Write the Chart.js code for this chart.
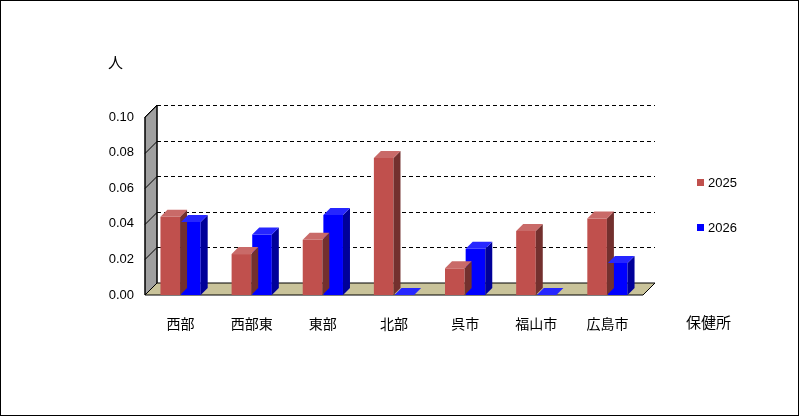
<!DOCTYPE html>
<html><head><meta charset="utf-8">
<script src="https://cdn.jsdelivr.net/npm/chart.js@4"></script>
<style>body{margin:0;background:#fff}canvas{display:block}</style>
</head><body><canvas id="c" width="799" height="416"></canvas>
<script>
const categories=['西部','西部東','東部','北部','呉市','福山市','広島市'];
const series2025=[0.044,0.023,0.031,0.077,0.015,0.036,0.043];
const series2026=[0.041,0.034,0.045,0.0,0.026,0.0,0.018];
const yTicks=[0,0.02,0.04,0.06,0.08,0.10];
const D=12, BD=7;
function shade(c,f){const n=parseInt(c.slice(1),16);let r=n>>16,g=(n>>8)&255,b=n&255;
 const m=v=>Math.max(0,Math.min(255,Math.round(f<1?v*f:v+(255-v)*(f-1))));return `rgb(${m(r)},${m(g)},${m(b)})`;}
const deco={id:'deco',
 beforeDatasetsDraw(ch){const c=ch.ctx,a=ch.chartArea,y=ch.scales.y;
  c.save();
  c.fillStyle='#a0a0a0';c.beginPath();c.moveTo(a.left,a.top);c.lineTo(a.left+D,a.top-D);c.lineTo(a.left+D,a.bottom-D);c.lineTo(a.left,a.bottom);c.closePath();c.fill();
  c.strokeStyle='#000';c.lineWidth=1;c.stroke();
  c.fillStyle='#c9c39a';c.beginPath();c.moveTo(a.left,a.bottom);c.lineTo(a.left+D,a.bottom-D);c.lineTo(a.right+D,a.bottom-D);c.lineTo(a.right,a.bottom);c.closePath();c.fill();c.stroke();
  c.setLineDash([4,3]);
  yTicks.forEach(v=>{if(v===0)return;const py=Math.round(y.getPixelForValue(v)-D)+0.5;c.beginPath();c.moveTo(a.left+D,py);c.lineTo(a.right+D,py);c.stroke();
   c.setLineDash([]);c.beginPath();c.moveTo(a.left,py+D);c.lineTo(a.left+D,py);c.stroke();c.setLineDash([4,3]);});
  c.setLineDash([]);
  c.beginPath();c.moveTo(a.left+D,a.top-D);c.lineTo(a.left+D,a.bottom-D);c.stroke();
  c.beginPath();c.moveTo(a.left,a.top);c.lineTo(a.left,a.bottom);c.stroke();
  c.restore();},
 afterDatasetsDraw(ch){const c=ch.ctx;c.save();
  ch.data.datasets.forEach((ds,i)=>{ch.getDatasetMeta(i).data.forEach(el=>{
   const w=el.width,l=el.x-w/2,r=el.x+w/2,t=el.y,b=el.base,col=ds.backgroundColor;
   c.fillStyle=shade(col,0.6);c.beginPath();c.moveTo(r,t);c.lineTo(r+BD,t-BD);c.lineTo(r+BD,b-BD);c.lineTo(r,b);c.closePath();c.fill();
   c.fillStyle=shade(col,1.15);c.beginPath();c.moveTo(l,t);c.lineTo(l+BD,t-BD);c.lineTo(r+BD,t-BD);c.lineTo(r,t);c.closePath();c.fill();
  });});
  // legend
  c.font='13px "Liberation Sans"';c.textBaseline='middle';
  ch.data.datasets.forEach((ds,i)=>{const yy=183+i*45;c.fillStyle=ds.backgroundColor;c.fillRect(697,yy-4,7,7);c.fillStyle='#000';c.fillText(ds.label,708,yy);});
  c.font='15px "Noto Sans CJK JP"';c.fillText('人',108,62);c.fillText('保健所',686,322);
  c.strokeStyle='#000';c.lineWidth=1;c.strokeRect(0.5,0.5,798,415);
  c.restore();}};
new Chart(document.getElementById('c'),{type:'bar',
 data:{labels:categories,datasets:[
  {label:'2025',data:series2025,backgroundColor:'#C0504D'},
  {label:'2026',data:series2026,backgroundColor:'#0000FF'}]},
 options:{responsive:false,animation:false,devicePixelRatio:1,
  layout:{padding:{left:0,top:117,right:156,bottom:0}},
  datasets:{bar:{categoryPercentage:0.58,barPercentage:0.95}},
  plugins:{legend:{display:false},tooltip:{enabled:false}},
  scales:{
   x:{grid:{display:false},border:{display:false},afterFit(s){s.height=121;},
      ticks:{color:'#000',font:{family:'Noto Sans CJK JP',size:14},padding:12}},
   y:{min:0,max:0.1,afterFit(s){s.width=145;},grid:{display:false},border:{display:false},
      afterBuildTicks(s){s.ticks=yTicks.map(v=>({value:v}));},
      ticks:{color:'#000',font:{family:'Liberation Sans',size:13},callback:v=>v.toFixed(2)}}}},
 plugins:[deco]});
</script></body></html>
